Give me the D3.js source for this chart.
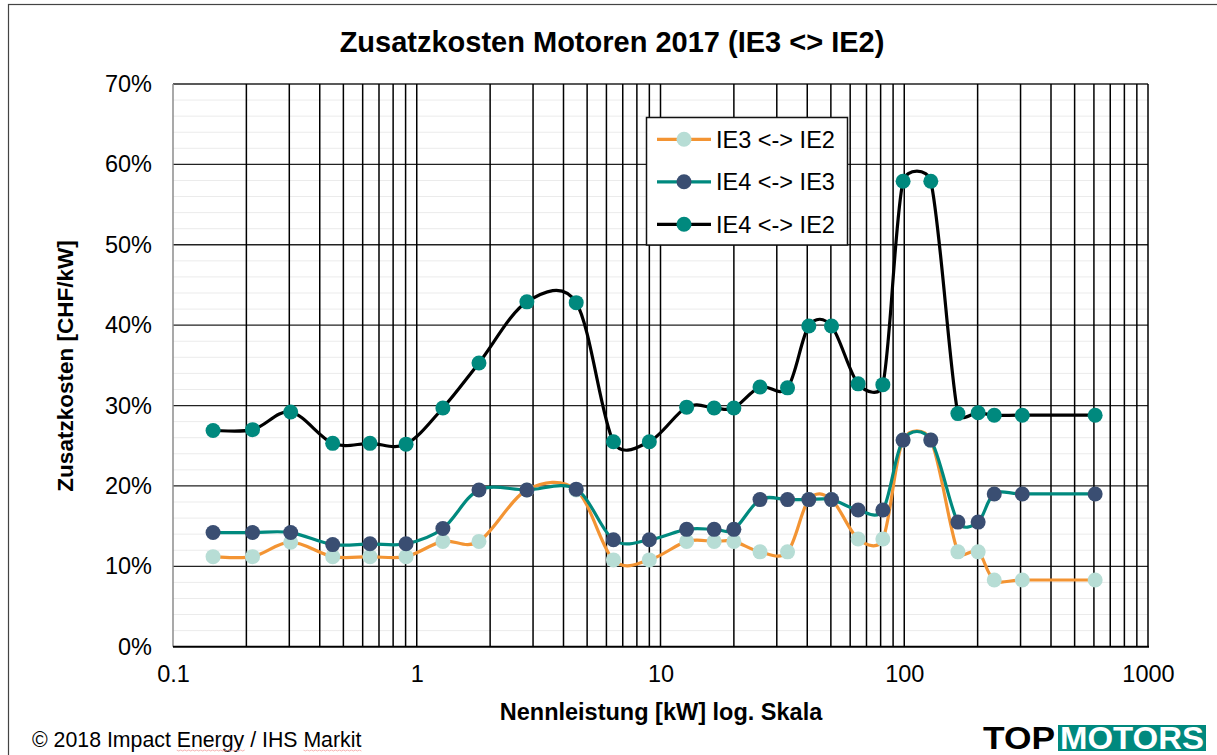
<!DOCTYPE html>
<html lang="de">
  <head>
    <meta charset="utf-8">
    <title>Zusatzkosten Motoren 2017</title>
    <script src="https://d3js.org/d3.v7.min.js"></script>
    <style>
      body { margin: 0; background: #fff; }
      svg text { font-family: "Liberation Sans", Arial, sans-serif; }
    </style>
  </head>
  <body>
    <script>
    // Nennleistung [kW]
    const kw = [0.146, 0.212, 0.304, 0.452, 0.643, 0.904, 1.28, 1.8, 2.83, 4.51,
                6.41, 9.0, 12.8, 16.6, 20.0, 25.6, 33.2, 40.6, 50.3, 64.7,
                81.7, 98.9, 128.5, 166, 201, 234, 305, 607]

    // Zusatzkosten in %
    const ie3ie2 = [11.2, 11.2, 13.0, 11.2, 11.2, 11.2, 13.1, 13.1, 19.5, 19.5,
                    10.8, 10.8, 13.1, 13.1, 13.1, 11.8, 11.8, 18.3, 18.3, 13.4,
                    13.4, 25.7, 25.7, 11.8, 11.8, 8.3, 8.3, 8.3]
    const ie4ie3 = [14.2, 14.2, 14.2, 12.7, 12.8, 12.8, 14.7, 19.5, 19.5, 19.6,
                    13.3, 13.3, 14.6, 14.6, 14.6, 18.3, 18.3, 18.3, 18.3, 17.0,
                    17.0, 25.7, 25.7, 15.5, 15.5, 19.0, 19.0, 19.0]
    const ie4ie2 = [26.9, 27.0, 29.2, 25.3, 25.3, 25.2, 29.7, 35.3, 42.9, 42.8,
                    25.5, 25.5, 29.8, 29.7, 29.7, 32.3, 32.2, 39.9, 39.9, 32.7,
                    32.6, 57.9, 57.9, 29.0, 29.1, 28.8, 28.8, 28.8]

    const seriesNames = ["IE3 <-> IE2", "IE4 <-> IE3", "IE4 <-> IE2"]
    const xTickLabels = [0.1, 1, 10, 100, 1000]
    const yTickValues = [0, 10, 20, 30, 40, 50, 60, 70]

    const series = [
        { name: seriesNames[0], values: ie3ie2, line: "#f39433", marker: "#b7ddd5" },
        { name: seriesNames[1], values: ie4ie3, line: "#00897e", marker: "#3a4e72" },
        { name: seriesNames[2], values: ie4ie2, line: "#000000", marker: "#00897e" }
    ]

    const measurements = {
        width: 1217,
        height: 755,
        left: 173,
        right: 1148,
        top: 84,
        bottom: 646.7
    }
    const fontSize = 23.5

    const svg = d3.select("body").append("svg")
        .attr("width", measurements.width)
        .attr("height", measurements.height)

    // outer chart frame
    svg.append("rect")
        .attr("x", 8.5).attr("y", 4.5)
        .attr("width", 1230).attr("height", 780)
        .attr("fill", "none")
        .attr("stroke", "#444")
        .attr("stroke-width", 1.2)

    const scaleX = d3.scaleLog()
        .domain([0.1, 1000])
        .range([measurements.left, measurements.right])

    const scaleY = d3.scaleLinear()
        .domain([0, 70])
        .range([measurements.bottom, measurements.top])

    // minor horizontal grid every 2%
    svg.append("g").selectAll("line")
        .data(d3.range(0, 71, 2).filter(v => v % 10 !== 0))
        .join("line")
        .attr("x1", measurements.left).attr("x2", measurements.right)
        .attr("y1", d => scaleY(d)).attr("y2", d => scaleY(d))
        .attr("stroke", "#ebebeb")
        .attr("stroke-width", 1)

    // major horizontal grid
    svg.append("g").selectAll("line")
        .data(yTickValues.filter(v => v > 0))
        .join("line")
        .attr("x1", measurements.left).attr("x2", measurements.right)
        .attr("y1", d => scaleY(d)).attr("y2", d => scaleY(d))
        .attr("stroke", "#222")
        .attr("stroke-width", 1.3)

    // vertical log grid
    svg.append("g").selectAll("line")
        .data(scaleX.ticks().filter(v => v > 0.1))
        .join("line")
        .attr("x1", d => scaleX(d)).attr("x2", d => scaleX(d))
        .attr("y1", measurements.top).attr("y2", measurements.bottom)
        .attr("stroke", "#000")
        .attr("stroke-width", 1.5)

    // axes lines
    svg.append("line")
        .attr("x1", measurements.left).attr("x2", measurements.left)
        .attr("y1", measurements.top).attr("y2", measurements.bottom)
        .attr("stroke", "#8c8c8c").attr("stroke-width", 1.5)
    svg.append("line")
        .attr("x1", measurements.left).attr("x2", measurements.right + 1)
        .attr("y1", measurements.bottom).attr("y2", measurements.bottom)
        .attr("stroke", "#000").attr("stroke-width", 2)

    // tick labels via axes
    const yAxis = d3.axisLeft(scaleY)
        .tickValues(yTickValues)
        .tickSize(0)
        .tickPadding(21)
        .tickFormat(d => d + "%")
    svg.append("g")
        .attr("transform", `translate(${measurements.left},0)`)
        .call(yAxis)
        .call(g => g.select(".domain").remove())
        .selectAll("text")
        .attr("font-size", fontSize)
        .attr("font-family", "Liberation Sans, Arial, sans-serif")
        .attr("fill", "#000")

    const xAxis = d3.axisBottom(scaleX)
        .tickValues(xTickLabels)
        .tickSize(0)
        .tickPadding(19)
        .tickFormat(d => String(d))
    svg.append("g")
        .attr("transform", `translate(0,${measurements.bottom})`)
        .call(xAxis)
        .call(g => g.select(".domain").remove())
        .selectAll("text")
        .attr("font-size", fontSize)
        .attr("font-family", "Liberation Sans, Arial, sans-serif")
        .attr("fill", "#000")

    // spreadsheet-style smoothed line: bezier handles at 1/6 of the
    // neighbour chord, capped at half of the segment length
    function smoothPath(pts) {
        const p = d3.path()
        const dist = (a, b) => Math.hypot(b[0] - a[0], b[1] - a[1])
        p.moveTo(pts[0][0], pts[0][1])
        for (let i = 0; i < pts.length - 1; i++) {
            const p0 = pts[Math.max(i - 1, 0)]
            const p1 = pts[i]
            const p2 = pts[i + 1]
            const p3 = pts[Math.min(i + 2, pts.length - 1)]
            const d12 = dist(p1, p2)
            const d02 = dist(p0, p2)
            const d13 = dist(p1, p3)
            const f1 = d02 > 0 ? Math.min(1 / 6, d12 / 2 / d02) : 0
            const f2 = d13 > 0 ? Math.min(1 / 6, d12 / 2 / d13) : 0
            p.bezierCurveTo(
                p1[0] + (p2[0] - p0[0]) * f1, p1[1] + (p2[1] - p0[1]) * f1,
                p2[0] - (p3[0] - p1[0]) * f2, p2[1] - (p3[1] - p1[1]) * f2,
                p2[0], p2[1])
        }
        return p.toString()
    }

    series.forEach(s => {
        const g = svg.append("g")
        const pts = s.values.map((v, i) => [scaleX(kw[i]), scaleY(v)])
        g.append("path")
            .attr("d", smoothPath(pts))
            .attr("fill", "none")
            .attr("stroke", s.line)
            .attr("stroke-width", 3.2)
        g.selectAll("circle")
            .data(s.values)
            .join("circle")
            .attr("cx", (d, i) => scaleX(kw[i]))
            .attr("cy", d => scaleY(d))
            .attr("r", 7.5)
            .attr("fill", s.marker)
    })

    // legend
    const legend = svg.append("g")
    legend.append("rect")
        .attr("x", 646.5).attr("y", 117.5)
        .attr("width", 201).attr("height", 127.5)
        .attr("fill", "#fff")
        .attr("stroke", "#111")
        .attr("stroke-width", 1.5)
    series.forEach((s, i) => {
        const y = 139.3 + i * 42.5
        legend.append("line")
            .attr("x1", 657).attr("x2", 711)
            .attr("y1", y).attr("y2", y)
            .attr("stroke", s.line).attr("stroke-width", 3.2)
        legend.append("circle")
            .attr("cx", 684).attr("cy", y).attr("r", 7.5)
            .attr("fill", s.marker)
        legend.append("text")
            .attr("x", 716).attr("y", y + 8.3)
            .attr("font-size", fontSize)
            .text(s.name)
    })

    // titles
    svg.append("text")
        .attr("x", 612).attr("y", 52)
        .attr("text-anchor", "middle")
        .attr("font-size", 29)
        .attr("font-weight", "bold")
        .text("Zusatzkosten Motoren 2017 (IE3 <> IE2)")

    svg.append("text")
        .attr("transform", "translate(73,366) rotate(-90)")
        .attr("text-anchor", "middle")
        .attr("font-size", 22.5)
        .attr("font-weight", "bold")
        .text("Zusatzkosten [CHF/kW]")

    svg.append("text")
        .attr("x", 661).attr("y", 720)
        .attr("text-anchor", "middle")
        .attr("font-size", fontSize)
        .attr("font-weight", "bold")
        .text("Nennleistung [kW] log. Skala")

    // copyright
    const copyText = "© 2018 Impact Energy / IHS Markit"
    const copy = svg.append("text")
        .attr("x", 32).attr("y", 747)
        .attr("font-size", 21.3)
        .text(copyText)
    const node = copy.node()
    ;["Energy", "Markit"].forEach(w => {
        const i = copyText.indexOf(w)
        const x0 = 32 + node.getSubStringLength(0, i)
        const wLen = node.getSubStringLength(i, w.length)
        const pts = d3.range(0, Math.ceil(wLen / 2) + 1).map(k => [x0 + k * 2, 750 + (k % 2)])
        svg.append("path")
            .attr("d", d3.line()(pts))
            .attr("fill", "none")
            .attr("stroke", "#f2a0a0")
            .attr("stroke-width", 0.8)
    })

    // TOPMOTORS logo
    svg.append("text")
        .attr("x", 983).attr("y", 748.5)
        .attr("font-size", 32)
        .attr("font-weight", "bold")
        .attr("textLength", 72)
        .attr("lengthAdjust", "spacingAndGlyphs")
        .text("TOP")
    svg.append("rect")
        .attr("x", 1058).attr("y", 725)
        .attr("width", 148).attr("height", 26)
        .attr("fill", "#00897e")
    svg.append("text")
        .attr("x", 1060).attr("y", 748.5)
        .attr("font-size", 32)
        .attr("font-weight", "bold")
        .attr("fill", "#fff")
        .attr("textLength", 144)
        .attr("lengthAdjust", "spacingAndGlyphs")
        .text("MOTORS")
    </script>
  </body>
</html>
